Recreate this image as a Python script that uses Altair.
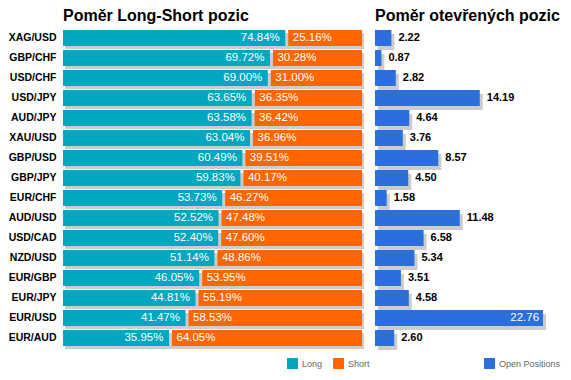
import altair as alt
import pandas as pd

pairs = ["XAG/USD", "GBP/CHF", "USD/CHF", "USD/JPY", "AUD/JPY", "XAU/USD", "GBP/USD", "GBP/JPY",
         "EUR/CHF", "AUD/USD", "USD/CAD", "NZD/USD", "EUR/GBP", "EUR/JPY", "EUR/USD", "EUR/AUD"]
long_pct = [74.84, 69.72, 69.00, 63.65, 63.58, 63.04, 60.49, 59.83,
            53.73, 52.52, 52.40, 51.14, 46.05, 44.81, 41.47, 35.95]
short_pct = [25.16, 30.28, 31.00, 36.35, 36.42, 36.96, 39.51, 40.17,
             46.27, 47.48, 47.60, 48.86, 53.95, 55.19, 58.53, 64.05]
open_pos = [2.22, 0.87, 2.82, 14.19, 4.64, 3.76, 8.57, 4.50,
            1.58, 11.48, 6.58, 5.34, 3.51, 4.58, 22.76, 2.60]

TEAL = "#01A6C0"
ORANGE = "#FF6600"
BLUE = "#2A6FDB"
SHADOW = "#CCCCCC"
FONT = "Liberation Sans"

df = pd.DataFrame({
    "pair": pairs,
    "long": long_pct,
    "short": short_pct,
    "open": open_pos,
})
df["zero"] = 0
df["total"] = df["long"] + df["short"]
df["long_lbl"] = df["long"].map(lambda v: f"{v:.2f}%")
df["short_lbl"] = df["short"].map(lambda v: f"{v:.2f}%")
df["open_lbl"] = df["open"].map(lambda v: f"{v:.2f}")
df["ltype"] = "Long"
df["stype"] = "Short"
df["otype"] = "Open Positions"

yscale = alt.Scale(paddingInner=0.2, paddingOuter=0.1)
legend_common = dict(
    orient="none", direction="horizontal", title=None, symbolType="square",
    symbolSize=120, symbolStrokeWidth=0, labelFontSize=9, labelColor="#666666",
    labelFont=FONT, columnPadding=10, symbolOpacity=1,
)

ycat = alt.Y("pair:N", sort=pairs, scale=yscale,
             axis=alt.Axis(title=None, ticks=False, domain=False, labelFontWeight="bold",
                           labelFontSize=10.5, labelColor="black", labelFont=FONT, labelPadding=7))

base_l = alt.Chart(df).encode(y=ycat)
xs_l = alt.Scale(domain=[0, 100], nice=False)

shadow_l = base_l.mark_bar(color=SHADOW, xOffset=2, x2Offset=2, yOffset=3, y2Offset=3).encode(
    x=alt.X("zero:Q", scale=xs_l, axis=None), x2="total:Q")
color_l = alt.Scale(domain=["Long", "Short"], range=[TEAL, ORANGE])
long_bar = base_l.mark_bar(x2Offset=-1.5, opacity=1).encode(
    x=alt.X("zero:Q", scale=xs_l, axis=None), x2="long:Q",
    color=alt.Color("ltype:N", scale=color_l,
                    legend=alt.Legend(legendX=224, legendY=330, **legend_common)))
short_bar = base_l.mark_bar(xOffset=1.5, opacity=1).encode(
    x=alt.X("long:Q", scale=xs_l, axis=None), x2="total:Q",
    color=alt.Color("stype:N", scale=color_l))
long_txt = base_l.mark_text(align="right", baseline="middle", dx=-7, color="white",
                            fontSize=11.5, font=FONT).encode(
    x=alt.X("long:Q", scale=xs_l, axis=None), text="long_lbl:N")
short_txt = base_l.mark_text(align="left", baseline="middle", dx=6, color="white",
                             fontSize=11.5, font=FONT).encode(
    x=alt.X("long:Q", scale=xs_l, axis=None), text="short_lbl:N")

left = alt.layer(shadow_l, long_bar, short_bar, long_txt, short_txt).properties(
    width=299, height=320,
    title=alt.TitleParams("Poměr Long-Short pozic", anchor="start", frame="group",
                          fontSize=16, font=FONT, fontWeight="bold", color="black", offset=4),
)

base_r = alt.Chart(df).encode(y=alt.Y("pair:N", sort=pairs, scale=yscale, axis=None))
xs_r = alt.Scale(domain=[0, 23.84], nice=False)
shadow_r = base_r.mark_bar(color=SHADOW, xOffset=3, x2Offset=3, yOffset=4, y2Offset=4).encode(
    x=alt.X("zero:Q", scale=xs_r, axis=None), x2="open:Q")
open_bar = base_r.mark_bar(opacity=1).encode(
    x=alt.X("zero:Q", scale=xs_r, axis=None), x2="open:Q",
    color=alt.Color("otype:N", scale=alt.Scale(domain=["Open Positions"], range=[BLUE]),
                    legend=alt.Legend(legendX=109, legendY=330, **legend_common)))
open_txt_out = base_r.transform_filter(alt.datum.open < 20).mark_text(
    align="left", baseline="middle", dx=7, color="black", fontSize=11,
    fontWeight="bold", font=FONT).encode(
    x=alt.X("open:Q", scale=xs_r, axis=None), text="open_lbl:N")
open_txt_in = base_r.transform_filter(alt.datum.open >= 20).mark_text(
    align="right", baseline="middle", dx=-4, color="white", fontSize=11.5, font=FONT).encode(
    x=alt.X("open:Q", scale=xs_r, axis=None), text="open_lbl:N")

right = alt.layer(shadow_r, open_bar, open_txt_out, open_txt_in).properties(
    width=176, height=320,
    title=alt.TitleParams("Poměr otevřených pozic", anchor="start", frame="group",
                          fontSize=16, font=FONT, fontWeight="bold", color="black", offset=4),
)

chart = alt.hconcat(left, right, spacing=5).resolve_scale(color="independent").configure_view(
    stroke=None).properties(padding={"left": 0, "top": 0, "right": 0, "bottom": 0})

chart.save("out.html", embed_options={"renderer": "svg", "actions": False})
